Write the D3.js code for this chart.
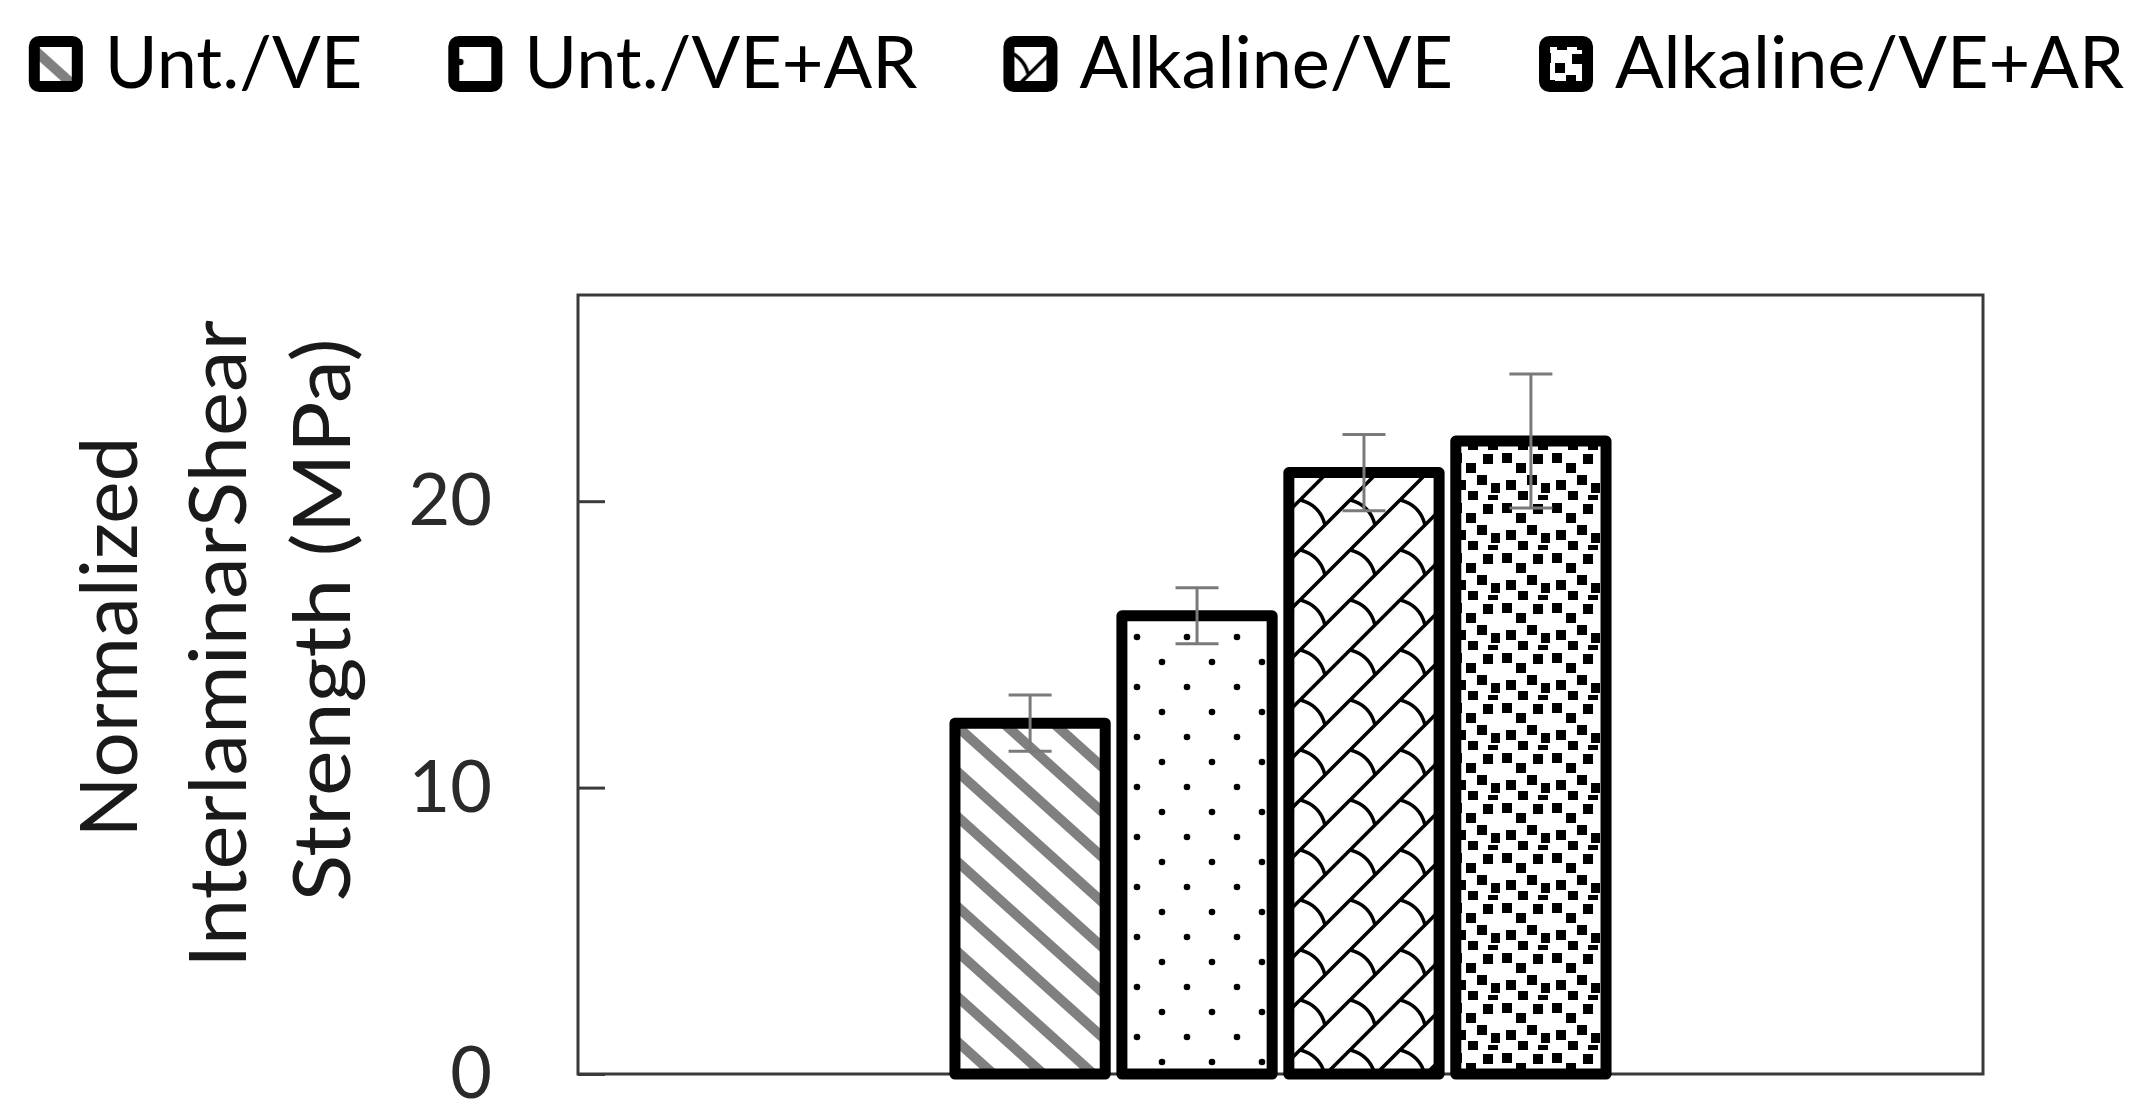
<!DOCTYPE html>
<html>
<head>
<meta charset="utf-8">
<script src="https://cdn.jsdelivr.net/npm/d3@7"></script>
<style>
  html, body { margin: 0; padding: 0; background: #fff; }
  svg { display: block; }
  text { font-family: Lato, "Open Sans", sans-serif; }
</style>
</head>
<body>
<div id="grafico"></div>
<script>
// dados
const categorias = [""];
const series = ["Unt./VE", "Unt./VE+AR", "Alkaline/VE", "Alkaline/VE+AR"];
const valores = [12.25, 16.0, 21.0, 22.1];
const erros = [0.98, 0.98, 1.33, 2.34];
const yTicks = [0, 10, 20];
const yMax = 27.2;
const tituloY = ["Normalized", "InterlaminarShear", "Strength (MPa)"];

const W = 2153, H = 1115;
const plot = { left: 578, right: 1983, top: 295, bottom: 1074 };

const svg = d3.select("#grafico").append("svg")
  .attr("width", W).attr("height", H);

// padrões de preenchimento (hachuras)
const defs = svg.append("defs");
const padroes = ["p0", "p1", "p2", "p3"];

// listras diagonais cinzas
const p0 = defs.append("pattern").attr("id", "p0")
  .attr("patternUnits", "userSpaceOnUse").attr("width", 50).attr("height", 45);
p0.append("rect").attr("width", 50).attr("height", 45).attr("fill", "#fff");
[-50, 0, 50].forEach(dx => {
  p0.append("line")
    .attr("x1", dx - 6).attr("y1", -5.4).attr("x2", dx + 56).attr("y2", 50.4)
    .attr("stroke", "#808080").attr("stroke-width", 10);
});

// pontinhos esparsos
const p1 = defs.append("pattern").attr("id", "p1")
  .attr("patternUnits", "userSpaceOnUse").attr("width", 50).attr("height", 50);
p1.append("rect").attr("width", 50).attr("height", 50).attr("fill", "#fff");
[[12, 12], [37, 37]].forEach(([cx, cy]) => {
  p1.append("circle").attr("cx", cx).attr("cy", cy).attr("r", 3.3).attr("fill", "#000");
});

// telhas (shingle)
const p2 = defs.append("pattern").attr("id", "p2")
  .attr("patternUnits", "userSpaceOnUse").attr("width", 50).attr("height", 50);
p2.append("rect").attr("width", 50).attr("height", 50).attr("fill", "#fff");
[0, 50, 100].forEach(c => {
  p2.append("line")
    .attr("x1", c + 5).attr("y1", -5).attr("x2", c - 55).attr("y2", 55)
    .attr("stroke", "#000").attr("stroke-width", 3.5);
});
[[0, 0], [50, 0], [0, 50], [-50, 50], [50, -50]].forEach(([ox, oy]) => {
  p2.append("path")
    .attr("d", `M${ox},${oy} Q${ox + 20},${oy + 5} ${ox + 25},${oy + 25}`)
    .attr("fill", "none").attr("stroke", "#000").attr("stroke-width", 3.5);
});

// confete grande
const p3 = defs.append("pattern").attr("id", "p3")
  .attr("patternUnits", "userSpaceOnUse").attr("width", 50).attr("height", 50);
p3.append("rect").attr("width", 50).attr("height", 50).attr("fill", "#fff");
[[2, 3], [16, 13], [33, 4], [27, 25], [41, 33], [6, 30], [18, 41], [38, 45]].forEach(([sx, sy]) => {
  p3.append("rect").attr("x", sx).attr("y", sy).attr("width", 10).attr("height", 10).attr("fill", "#000");
});

// escalas
const y = d3.scaleLinear().domain([0, yMax]).range([plot.bottom, plot.top]);
const x0 = d3.scaleBand().domain(categorias).range([plot.left, plot.right])
  .paddingInner(0).paddingOuter(0.579);
const x1 = d3.scaleBand().domain(series).range([0, x0.bandwidth()])
  .paddingInner(0.1).paddingOuter(0);

// moldura da área do gráfico
svg.append("rect")
  .attr("x", plot.left).attr("y", plot.top)
  .attr("width", plot.right - plot.left).attr("height", plot.bottom - plot.top)
  .attr("fill", "none").attr("stroke", "#3a3a3a").attr("stroke-width", 3);

// eixo Y com marcas para dentro
const eixoY = svg.append("g")
  .attr("transform", `translate(${plot.left},0)`)
  .call(d3.axisLeft(y).tickValues(yTicks).tickSizeInner(-27).tickSizeOuter(0).tickPadding(86));
eixoY.select(".domain").remove();
eixoY.selectAll(".tick line").attr("stroke", "#3a3a3a").attr("stroke-width", 3);
eixoY.selectAll(".tick text")
  .attr("font-size", 72).attr("fill", "#2a2a2a").attr("dy", "0.33em")
  .attr("font-family", "Lato, sans-serif");

// título do eixo Y (3 linhas, girado)
const baseTitulo = [137, 246, 350];
const centroTitulo = [637, 644, 620];
const compTitulo = [401, 648, 563];
tituloY.forEach((linha, i) => {
  svg.append("text")
    .attr("transform", `translate(${baseTitulo[i]},${centroTitulo[i]}) rotate(-90)`)
    .attr("text-anchor", "middle")
    .attr("font-size", 79).attr("fill", "#1a1a1a")
    .attr("textLength", compTitulo[i]).attr("lengthAdjust", "spacingAndGlyphs")
    .text(linha);
});

// barras
const dados = series.map((s, i) => ({ serie: s, valor: valores[i], erro: erros[i], cat: categorias[0], padrao: padroes[i] }));

const grupo = svg.append("g");
grupo.selectAll(".barra")
  .data(dados)
  .enter().append("rect")
  .attr("class", "barra")
  .attr("x", d => x0(d.cat) + x1(d.serie))
  .attr("y", d => y(d.valor))
  .attr("width", x1.bandwidth())
  .attr("height", d => y(0) - y(d.valor))
  .attr("fill", d => `url(#${d.padrao})`)
  .attr("stroke", "#000").attr("stroke-width", 11)
  .attr("stroke-linejoin", "round");

// barras de erro
const capW = 43;
const eb = grupo.selectAll(".erro")
  .data(dados)
  .enter().append("g")
  .attr("class", "erro")
  .attr("stroke", "#7a7a7a").attr("stroke-width", 3);
eb.append("line")
  .attr("x1", d => x0(d.cat) + x1(d.serie) + x1.bandwidth() / 2)
  .attr("x2", d => x0(d.cat) + x1(d.serie) + x1.bandwidth() / 2)
  .attr("y1", d => y(d.valor - d.erro))
  .attr("y2", d => y(d.valor + d.erro));
[-1, 1].forEach(sinal => {
  eb.append("line")
    .attr("x1", d => x0(d.cat) + x1(d.serie) + x1.bandwidth() / 2 - capW / 2)
    .attr("x2", d => x0(d.cat) + x1(d.serie) + x1.bandwidth() / 2 + capW / 2)
    .attr("y1", d => y(d.valor + sinal * d.erro))
    .attr("y2", d => y(d.valor + sinal * d.erro));
});

// legenda no topo, centralizada
const legenda = svg.append("g");
const marcador = 43, gapTexto = 22, gapItem = 86;
let cursor = 0;
dados.forEach(d => {
  const item = legenda.append("g").attr("transform", `translate(${cursor},0)`);
  item.append("rect")
    .attr("x", 5.5).attr("y", 41.5)
    .attr("width", marcador).attr("height", 45).attr("rx", 5)
    .attr("fill", `url(#${d.padrao})`)
    .attr("stroke", "#000").attr("stroke-width", 11);
  const t = item.append("text")
    .attr("x", 5.5 + marcador + 5.5 + gapTexto)
    .attr("y", 88)
    .attr("font-size", 72).attr("fill", "#000")
    .text(d.serie);
  cursor += 5.5 + marcador + 5.5 + gapTexto + t.node().getComputedTextLength() + gapItem;
});
const larguraLegenda = cursor - gapItem;
legenda.attr("transform", `translate(${(W - larguraLegenda) / 2},0)`);
</script>
</body>
</html>
